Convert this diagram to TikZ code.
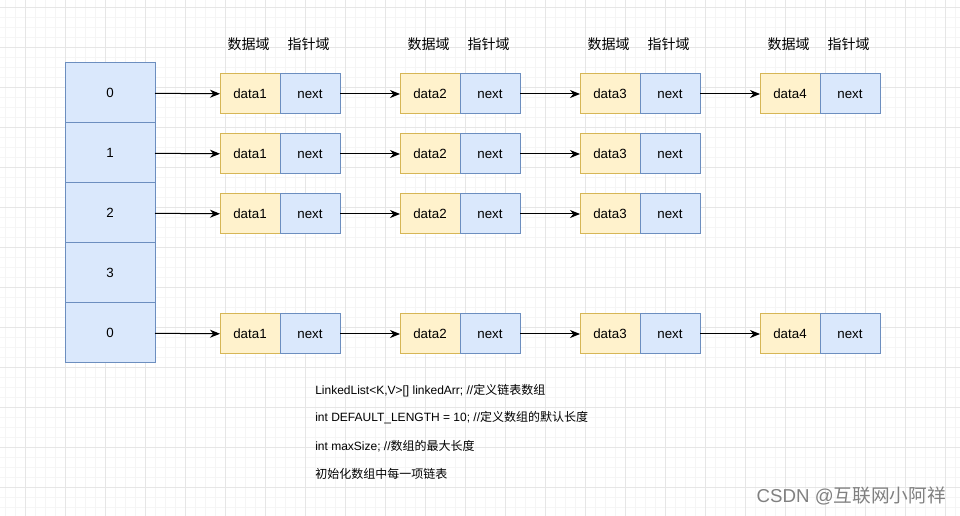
\documentclass[tikz,border=0pt]{standalone}
\usepackage{fontspec}
\setmainfont{Liberation Sans}
\newfontfamily\cjk{Noto Sans CJK SC}
\usetikzlibrary{positioning,arrows.meta}
\definecolor{cellfill}{HTML}{DAE8FC}
\definecolor{cellline}{HTML}{6C8EBF}
\definecolor{datfill}{HTML}{FFF2CC}
\definecolor{datline}{HTML}{D6B656}
\definecolor{gridminor}{HTML}{F5F5F5}
\definecolor{gridmajor}{HTML}{E6E6E6}
\tikzset{
  slot/.style={draw=cellline,fill=cellfill,line width=0.75pt,minimum width=67.5pt,
    minimum height=45pt,inner sep=0pt,outer sep=0pt,font=\fontsize{10}{12}\selectfont},
  datbox/.style={draw=datline,fill=datfill,line width=0.75pt,minimum width=45pt,
    minimum height=30pt,inner sep=0pt,outer sep=0pt,font=\fontsize{10}{12}\selectfont},
  nxtbox/.style={datbox,draw=cellline,fill=cellfill},
  link/.style={-{Stealth[length=7.5pt,width=6pt]},line width=0.75pt},
  head/.style={font=\cjk\fontsize{10.5}{12}\selectfont,inner sep=0pt},
  codeline/.style={anchor=west,inner sep=0pt,font=\fontsize{9}{11}\selectfont}
}
\begin{document}
\begin{tikzpicture}[x=0.75pt,y=-0.75pt]
      \useasboundingbox (0,0) rectangle (960,516);
      \fill[white] (0,0) rectangle (960,516);
      % grid
      \foreach \gx in {5,15,...,955} \draw[gridminor,line width=0.6pt] (\gx,0) -- (\gx,516);
      \foreach \gy in {7,17,...,516} \draw[gridminor,line width=0.6pt] (0,\gy) -- (960,\gy);
      \foreach \gx in {25,65,...,955} \draw[gridmajor,line width=0.6pt] (\gx,0) -- (\gx,516);
      \foreach \gy in {7,47,...,516} \draw[gridmajor,line width=0.6pt] (0,\gy) -- (960,\gy);
      % array
      \node[slot] (s0) at (110,93) {0};
      \node[slot,below=0pt of s0] (s1) {1};
      \node[slot,below=0pt of s1] (s2) {2};
      \node[slot,below=0pt of s2] (s3) {3};
      \node[slot,below=0pt of s3] (s4) {0};
      % lists
      \foreach \r/\n in {0/4,1/3,2/3,4/4} {
        \pgfmathsetmacro{\ry}{94+60*\r}
        \foreach \c in {1,...,\n} {
          \node[datbox] (d\r\c) at ({250+180*(\c-1)},\ry) {data\c};
          \node[nxtbox,right=0pt of d\r\c] (n\r\c) {next};
        }
        \draw[link] (s\r) -- (d\r1);
        \foreach \c [evaluate=\c as \p using int(\c-1)] in {2,...,\n}
          \draw[link] (n\r\p) -- (d\r\c);
      }
      % headers
      \foreach \c in {1,...,4} {
        \node[head,above=17pt of d0\c,xshift=-1pt] (hd\c) {数据域};
        \node[head,above=17pt of n0\c,xshift=-1pt] (hn\c) {指针域};
      }
      % notes
      \node[codeline] (l1) at (315,391) {LinkedList<K,V>[] linkedArr; //{\cjk 定义链表数组}};
      \node[codeline] (l2) at (315,418) {int DEFAULT\_LENGTH = 10; //{\cjk 定义数组的默认长度}};
      \node[codeline] (l3) at (315,446) {int maxSize; //{\cjk 数组的最大长度}};
      \node[codeline] (l4) at (315,474) {\cjk 初始化数组中每一项链表};
      \node[anchor=east,inner sep=0pt,text=black!50,font=\fontsize{14}{16}\selectfont] (wm) at (946,496) {CSDN @{\cjk 互联网小阿祥}};
    \end{tikzpicture}
\end{document}
